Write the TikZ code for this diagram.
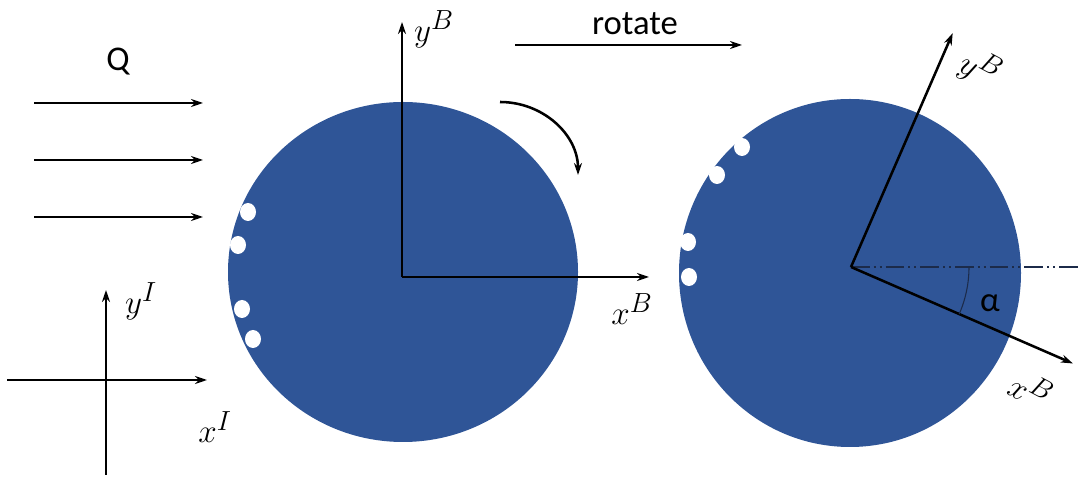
\documentclass[tikz,border=0pt]{standalone}
\usepackage{fontspec}
\setmainfont{Carlito}
\usetikzlibrary{arrows.meta}
\definecolor{disc}{HTML}{2F5597}
\definecolor{navy}{HTML}{1C2B4A}

\begin{document}
\begin{tikzpicture}[x=0.75pt, y=0.75pt, font=\fontsize{26}{30}\selectfont,
          >={Stealth[length=9pt, width=6pt]},
          ax/.style={->, line width=1.9pt},
          hole/.style={fill=white},
          sym/.style={font=\fontsize{32}{36}\selectfont, inner sep=0pt}]
        \useasboundingbox (0,0) rectangle (1078,481);
        % the two disks, before and after the turn
        \fill[disc] (403,209) ellipse[x radius=175, y radius=170];
        \fill[disc] (850,208) ellipse[x radius=171, y radius=174];
        % white holes near the rim
        \foreach \p in {(248,269),(238,236),(242,172),(253,142),
                        (742,334),(717,306),(688,239),(689,204)}
          \fill[hole] \p ellipse[x radius=8, y radius=9];
        % incoming flow
        \node (Q) at (118,419) {Q};
        \foreach \y in {378,321,264} \draw[ax] (34,\y) -- (203,\y);
        % inertial frame
        \coordinate (xIs) at (7,101);
        \coordinate (xIe) at (207,101);
        \coordinate (yIs) at (106,6);
        \coordinate (yIe) at (106,191);
        \draw[ax] (xIs) -- (xIe);
        \draw[ax] (yIs) -- (yIe);
        \node[sym] (yI) at (141,180) {$y^I$};
        \node[sym] (xI) at (215,54) {$x^I$};
        % body frame, left disk
        \coordinate (oB) at (402,204);
        \draw[ax] (oB) -- (402,459);
        \draw[ax] (oB) -- (649,204);
        \node[sym] (yB) at (434,452) {$y^B$};
        \node[sym] (xB) at (632,172) {$x^B$};
        % sense of rotation
        \draw[->, line width=1.9pt] (500,379)
             arc[start angle=90, end angle=0, x radius=78, y radius=73];
        \draw[ax] (515,436) -- (742,436);
        \node (rot) at (635,457) {rotate};
        % body frame, right disk (turned by alpha)
        \coordinate (oR) at (851,214);
        \draw[navy, line width=0.8pt,
              dash pattern=on 14pt off 3pt on 1.5pt off 3pt on 1.5pt off 3pt]
             (oR) -- (1078,214);
        \draw[ax] (oR) -- ++(66.5:255);
        \draw[ax] (oR) -- ++(-23.5:242);
        \node[sym, rotate=-28] (yBr) at (980,412) {$y^B$};
        \node[sym, rotate=-28] (xBr) at (1031,92) {$x^B$};
        \draw[navy, line width=0.8pt] ([shift={(0:118)}]oR)
             arc[start angle=0, end angle=-23.5, radius=118];
        \node (alpha) at (990,178) {α};
      \end{tikzpicture}
\end{document}
